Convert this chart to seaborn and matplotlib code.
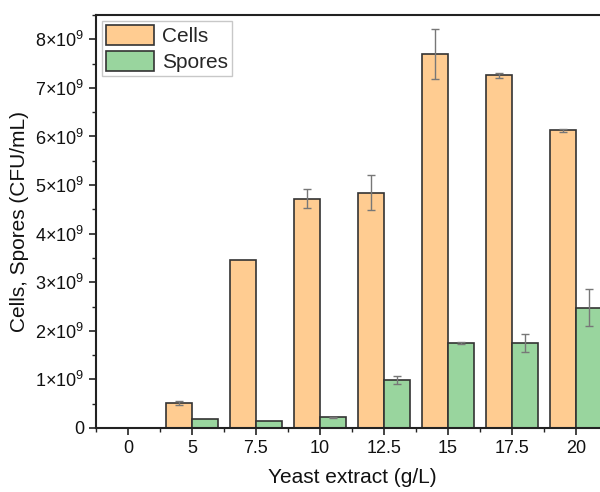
import numpy as np
import pandas as pd
import matplotlib
matplotlib.use("Agg")
import matplotlib.pyplot as plt
import seaborn as sns
from matplotlib.ticker import FuncFormatter, MultipleLocator

categories = ["0", "5", "7.5", "10", "12.5", "15", "17.5", "20"]
cells = [0.0, 0.51, 3.46, 4.72, 4.84, 7.70, 7.26, 6.13]          # x1e9 CFU/mL
cells_err = [0.0, 0.04, 0.0, 0.19, 0.36, 0.52, 0.05, 0.03]
spores = [0.0, 0.18, 0.15, 0.22, 0.99, 1.75, 1.75, 2.48]
spores_err = [0.0, 0.0, 0.0, 0.01, 0.08, 0.03, 0.18, 0.38]
series = ["Cells", "Spores"]
colors = ["#FFCC91", "#99D59E"]

df = pd.DataFrame({
    "Yeast": categories * 2,
    "Value": [v * 1e9 for v in cells + spores],
    "Err": [v * 1e9 for v in cells_err + spores_err],
    "Series": [series[0]] * len(categories) + [series[1]] * len(categories),
})

sns.set_theme(style="ticks")
plt.rcParams["font.family"] = ["Liberation Sans", "DejaVu Sans"]
plt.rcParams["mathtext.fontset"] = "custom"
plt.rcParams["mathtext.rm"] = "Liberation Sans"

fig = plt.figure(figsize=(6.0, 4.92), dpi=100)
ax = fig.add_axes([96 / 600, 1 - 428 / 492, 512 / 600, 413 / 492])

sns.barplot(data=df, x="Yeast", y="Value", hue="Series", order=categories,
            hue_order=series, palette=colors, width=0.8, errorbar=None,
            edgecolor="#333333", linewidth=1.2, ax=ax, saturation=1)

# error bars at bar centers
for container, s in zip(ax.containers, series):
    sub = df[df["Series"] == s].set_index("Yeast").loc[categories]
    xs = [p.get_x() + p.get_width() / 2 for p in container.patches]
    ys = [p.get_height() for p in container.patches]
    errs = sub["Err"].values
    mask = errs > 0
    ax.errorbar(np.array(xs)[mask], np.array(ys)[mask], yerr=errs[mask],
                fmt="none", ecolor="#777777", elinewidth=1, capsize=3,
                capthick=1, zorder=5)

ax.set_xlim(-0.5, 7.5)
ax.set_ylim(0, 8.5e9)
ax.xaxis.set_minor_locator(MultipleLocator(0.5))
ax.yaxis.set_major_locator(MultipleLocator(1e9))
ax.yaxis.set_minor_locator(MultipleLocator(0.5e9))

def yfmt(v, pos):
    n = int(round(v / 1e9))
    if n == 0:
        return "0"
    return r"$\mathregular{%d{\times}10^{9}}$" % n

ax.yaxis.set_major_formatter(FuncFormatter(yfmt))
ax.tick_params(axis="both", which="major", direction="out", length=5,
               width=1.2, color="#222222", labelsize=13, labelcolor="#111111")
ax.tick_params(axis="both", which="minor", direction="out", length=3,
               width=1.0, color="#222222")
ax.tick_params(axis="x", which="minor", bottom=True)

for sp in ax.spines.values():
    sp.set_visible(True)
    sp.set_linewidth(1.5)
    sp.set_color("#222222")

ax.set_xlabel("Yeast extract (g/L)", fontsize=15, color="#111111", labelpad=8)
ax.set_ylabel("Cells, Spores (CFU/mL)", fontsize=15, color="#111111", labelpad=4)

handles, labels = ax.get_legend_handles_labels()
leg = ax.legend(handles, labels, loc="upper left", fontsize=15,
                frameon=True, fancybox=False, edgecolor="#BBBBBB",
                borderaxespad=0.3, handlelength=2.3, handleheight=1.1,
                handletextpad=0.35, labelspacing=0.2, borderpad=0.2)
leg.get_frame().set_linewidth(1.0)

fig.savefig("out.png", dpi=100)
